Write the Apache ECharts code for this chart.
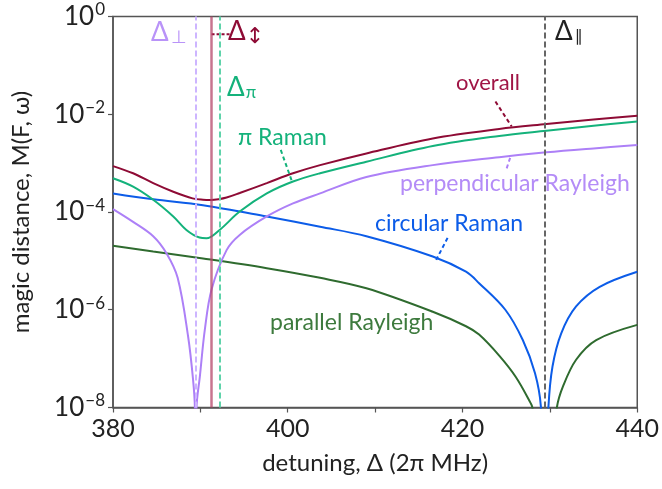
<!DOCTYPE html>
<html>
<head>
<meta charset="utf-8">
<script src="https://cdn.jsdelivr.net/npm/echarts@6/dist/echarts.min.js"></script>
<style>
  html, body { margin: 0; padding: 0; background: #fff; }
  #chart { width: 662px; height: 489px; }
</style>
</head>
<body>
<div id="chart"></div>
<script>
// detuning (2pi MHz) and magic distance
const xOverall = [380, 382.3, 384.6, 386.9, 389.1, 390.3, 391.2, 392.1, 393.0, 394.5, 397.6, 400.6, 403.7, 409, 416.6, 424.2, 429.6, 435, 440];
const yOverall = [8.7e-4, 6.2e-4, 3.9e-4, 2.6e-4, 1.9e-4, 1.78e-4, 1.76e-4, 1.83e-4, 1.98e-4, 2.45e-4, 3.9e-4, 6.2e-4, 9.1e-4, 1.58e-3, 3.2e-3, 5.0e-3, 6.3e-3, 7.8e-3, 9.3e-3];

const xPiRaman = [380, 382.3, 384.6, 386.9, 388.4, 389.9, 390.7, 392.2, 394.5, 397.6, 400.6, 403.7, 409, 416.6, 424.2, 429.6, 435, 440];
const yPiRaman = [4.9e-4, 3.3e-4, 1.78e-4, 8.1e-5, 4.3e-5, 3.0e-5, 2.9e-5, 4.3e-5, 1.02e-4, 2.4e-4, 4.2e-4, 6.2e-4, 1.07e-3, 2.24e-3, 3.6e-3, 4.6e-3, 5.8e-3, 7.1e-3];

const xPerp = [380, 382.3, 384.6, 386.1, 387.4, 388.6, 389.17, 389.37, 389.46, 389.56, 389.94, 390.51, 391.28, 393.0, 394.5, 397.6, 400.6, 403.7, 409, 416.6, 424.2, 429.6, 435, 440];
const yPerp = [1.15e-4, 6.3e-5, 3.2e-5, 1.45e-5, 4.5e-6, 2.8e-7, 3.6e-8, 1.0e-8, 1e-10, 1.0e-8, 4.3e-8, 3.9e-7, 2.6e-6, 1.66e-5, 3.4e-5, 8.1e-5, 1.5e-4, 2.4e-4, 5.2e-4, 9.1e-4, 1.32e-3, 1.66e-3, 2.0e-3, 2.34e-3];

const xCirc = [380, 384.6, 390.3, 397.6, 403.7, 409, 416.6, 420.4, 421.9, 424.9, 426.9, 428.3, 428.97, 429.4, 429.83, 430.3, 431.3, 433.0, 435.7, 440];
const yCirc = [2.4e-4, 1.82e-4, 1.38e-4, 8.1e-5, 5.0e-5, 3.2e-5, 1.23e-5, 6.0e-6, 3.5e-6, 1.0e-6, 2.4e-7, 5.0e-8, 1.05e-8, 1e-10, 1.0e-8, 6.9e-8, 3.3e-7, 1.17e-6, 2.95e-6, 6.0e-6];

const xPar = [380, 384.6, 390.3, 397.6, 403.7, 409, 416.6, 420.4, 421.9, 424.2, 426.1, 427.8, 428.0, 429.4, 430.8, 431.5, 433.0, 435.3, 440];
const yPar = [2.04e-5, 1.55e-5, 1.12e-5, 7.1e-6, 4.5e-6, 2.75e-6, 9.1e-7, 4.6e-7, 3.1e-7, 1.15e-7, 4.2e-8, 1.23e-8, 1.0e-8, 1e-10, 1.0e-8, 2.7e-8, 9.5e-8, 2.4e-7, 4.9e-7];

// special detunings (vertical lines)
const deltaPerp = 389.45;
const deltaCirc = 391.28;
const deltaPi = 392.23;
const deltaPar = 429.42;

const yTicks = [1e-8, 1e-6, 1e-4, 1e-2, 1];
const xLabels = [380, 400, 420, 440];

const FONT = 'Lato';
const cOverall = '#8e0b35';
const cPi = '#14b27b';
const cPerp = '#ad80f7';
const cCirc = '#0c5ce8';
const cPar = '#2f6b2f';

function zip(xs, ys) {
  return xs.map(function (x, i) { return [x, ys[i]]; });
}

function curve(name, xs, ys, color, extra) {
  return Object.assign({
    name: name,
    type: 'line',
    data: zip(xs, ys),
    showSymbol: false,
    smooth: 0.35,
    clip: true,
    lineStyle: { color: color, width: 2 },
    itemStyle: { color: color },
    silent: true,
    z: 3
  }, extra || {});
}

function leader(pts, color, dash) {
  return {
    type: 'line',
    data: pts,
    showSymbol: false,
    silent: true,
    lineStyle: { color: color, width: 2, type: dash || [4, 3] },
    z: 4
  };
}

function vline(x, color, type, width, opacity) {
  return {
    xAxis: x,
    lineStyle: { color: color, type: type, width: width, opacity: opacity }
  };
}

const chart = echarts.init(document.getElementById('chart'), null, { renderer: 'canvas' });

const option = {
  animation: false,
  backgroundColor: '#fff',
  grid: {
    left: 113, right: 24, top: 16.5, bottom: 81.5,
    show: true, borderColor: '#555', borderWidth: 1.5, backgroundColor: 'transparent'
  },
  xAxis: {
    type: 'value',
    min: 380, max: 440, interval: 10,
    name: 'detuning, Δ (2π MHz)',
    nameLocation: 'middle',
    nameGap: 44,
    nameTextStyle: { fontFamily: FONT, fontSize: 24, color: '#222' },
    axisLine: { show: true, lineStyle: { color: '#555', width: 1.5 } },
    axisTick: { show: true, length: 5, lineStyle: { color: '#555', width: 1.2 } },
    axisLabel: {
      fontFamily: FONT, fontSize: 25, color: '#222', margin: 9,
      formatter: function (v) { return xLabels.indexOf(v) >= 0 ? String(v) : ''; }
    },
    splitLine: { show: false }
  },
  yAxis: {
    type: 'log',
    logBase: 10,
    min: 1e-8, max: 1, interval: 2,
    name: 'magic distance, M(F, ω)',
    nameLocation: 'middle',
    nameGap: 80,
    nameTextStyle: { fontFamily: FONT, fontSize: 24, color: '#222' },
    axisLine: { show: true, lineStyle: { color: '#555', width: 1.5 } },
    axisTick: { show: true, length: 5, lineStyle: { color: '#555', width: 1.2 } },
    axisLabel: {
      margin: 8,
      formatter: function (v) {
        const e = Math.round(Math.log10(v));
        if (yTicks.indexOf(Math.pow(10, e)) < 0 && e !== 0) return '';
        return '{b|10}{e|' + (e < 0 ? '−' + (-e) : e) + '}';
      },
      rich: {
        b: { fontFamily: FONT, fontSize: 26, color: '#222', lineHeight: 30 },
        e: { fontFamily: FONT, fontSize: 17, color: '#222', lineHeight: 17, verticalAlign: 'top', padding: [0, 0, 0, 1] }
      }
    },
    splitLine: { show: false }
  },
  series: [
    curve('parallel Rayleigh', xPar, yPar, cPar, {
      markLine: {
        silent: true, symbol: 'none', label: { show: false },
        data: [vline(deltaPar, '#666', [6, 3], 2, 1)]
      }
    }),
    curve('circular Raman', xCirc, yCirc, cCirc),
    curve('perpendicular Rayleigh', xPerp, yPerp, cPerp, {
      markLine: {
        silent: true, symbol: 'none', label: { show: false },
        data: [vline(deltaPerp, '#cdb5ff', [6, 3], 2, 1)]
      }
    }),
    curve('pi Raman', xPiRaman, yPiRaman, cPi, {
      markLine: {
        silent: true, symbol: 'none', label: { show: false },
        data: [vline(deltaPi, '#5fd3aa', [6, 3], 2, 1)]
      }
    }),
    curve('overall', xOverall, yOverall, cOverall, {
      markLine: {
        silent: true, symbol: 'none', label: { show: false }, z: 5,
        data: [vline(deltaCirc, '#b5466a', 'solid', 2.5, 0.75)]
      }
    }),
    leader([[399.2, 1.86e-3], [400.49, 4.2e-4]], cPi),
    leader([[423.77, 1.82e-2], [425.63, 5.6e-3]], cOverall),
    leader([[425.45, 1.28e-3], [424.99, 7.2e-4]], cPerp),
    leader([[418.29, 2.95e-5], [416.99, 1.05e-5]], cCirc),
    leader([[391.28, 0.433], [393.37, 0.433]], cOverall, [3, 2])
  ],
  graphic: [
    { type: 'text', left: 151, top: 20, silent: true,
      style: { text: '{d|Δ}{s|⊥}', rich: {
        d: { fontFamily: FONT, fontSize: 26, fill: '#b993f8' },
        s: { fontFamily: FONT, fontSize: 18, fill: '#b993f8', verticalAlign: 'bottom', padding: [8, 0, 0, 2] } } } },
    { type: 'text', left: 228, top: 19, silent: true,
      style: { text: '{d|Δ}{s|↕}', rich: {
        d: { fontFamily: FONT, fontSize: 26, fill: cOverall },
        s: { fontFamily: 'DejaVu Sans', fontSize: 22, fill: cOverall, verticalAlign: 'bottom', padding: [10, 0, 0, 0] } } } },
    { type: 'text', left: 227, top: 75, silent: true,
      style: { text: '{d|Δ}{s|π}', rich: {
        d: { fontFamily: FONT, fontSize: 26, fill: cPi },
        s: { fontFamily: FONT, fontSize: 17, fill: cPi, verticalAlign: 'bottom', padding: [8, 0, 0, 1] } } } },
    { type: 'text', left: 555, top: 19, silent: true,
      style: { text: '{d|Δ}{s|∥}', rich: {
        d: { fontFamily: FONT, fontSize: 26, fill: '#222' },
        s: { fontFamily: 'DejaVu Sans', fontSize: 16, fill: '#222', verticalAlign: 'bottom', padding: [10, 0, 0, 2] } } } },
    { type: 'text', left: 238, top: 126, silent: true,
      style: { text: 'π Raman', fontFamily: FONT, fontSize: 23, fill: cPi } },
    { type: 'text', left: 456, top: 72, silent: true,
      style: { text: 'overall', fontFamily: FONT, fontSize: 22, fill: '#a01545' } },
    { type: 'text', left: 400, top: 172, silent: true,
      style: { text: 'perpendicular Rayleigh', fontFamily: FONT, fontSize: 23, fill: '#b48cf7' } },
    { type: 'text', left: 375, top: 212, silent: true,
      style: { text: 'circular Raman', fontFamily: FONT, fontSize: 23, fill: cCirc } },
    { type: 'text', left: 270, top: 311, silent: true,
      style: { text: 'parallel Rayleigh', fontFamily: FONT, fontSize: 23, fill: '#3d7a3d' } }
  ]
};

chart.setOption(option);
</script>
</body>
</html>
